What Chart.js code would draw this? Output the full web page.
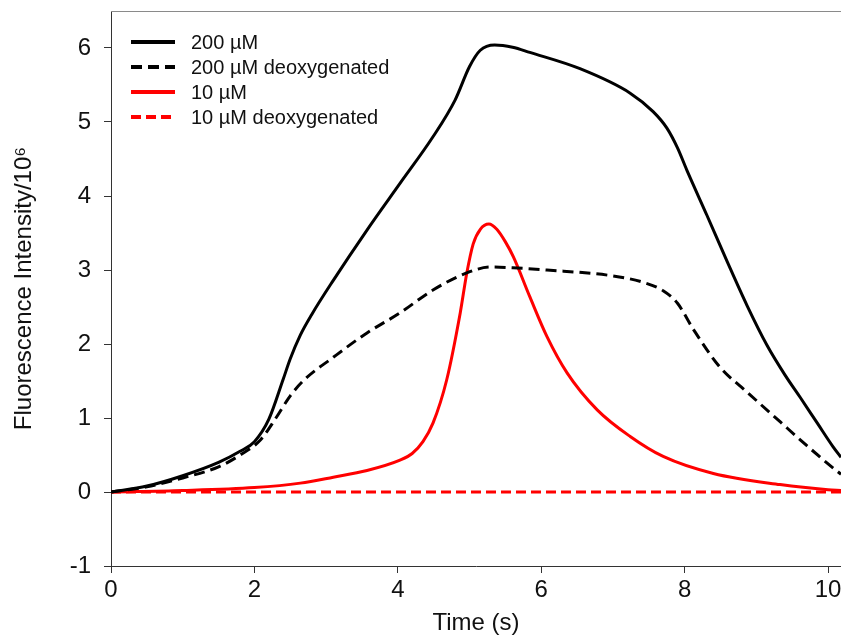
<!DOCTYPE html>
<html>
<head>
<meta charset="utf-8">
<script src="https://cdn.jsdelivr.net/npm/chart.js@4"></script>
<style>
  body { margin: 0; background: #fff; }
  #wrap { width: 841px; height: 638px; }
</style>
</head>
<body>
<div id="wrap"><canvas id="myChart" width="841" height="638"></canvas></div>
<script>
// time (s) and intensity (x10^6) for each run
const t200 = [0, 0.5, 1.0, 1.5, 1.8, 2.0, 2.2, 2.4, 2.5, 2.64, 2.8, 3.1, 3.57, 4.03, 4.49, 4.8, 5.0, 5.15, 5.35, 5.6, 5.84, 6.54, 7.24, 7.56, 7.75, 7.9, 8.03, 8.31, 8.59, 8.87, 9.15, 9.4, 9.61, 9.85, 10.07, 10.18];
const v200 = [0, 0.08, 0.22, 0.40, 0.55, 0.68, 0.98, 1.52, 1.80, 2.12, 2.40, 2.86, 3.54, 4.17, 4.80, 5.30, 5.75, 5.97, 6.04, 6.01, 5.94, 5.72, 5.39, 5.14, 4.92, 4.65, 4.35, 3.74, 3.12, 2.52, 1.98, 1.58, 1.28, 0.93, 0.61, 0.47];

const t200d = [0, 0.5, 1.0, 1.5, 1.8, 2.08, 2.3, 2.5, 2.7, 3.1, 3.57, 4.03, 4.49, 4.96, 5.29, 5.6, 6.08, 7.0, 7.4, 7.7, 7.9, 8.12, 8.49, 8.87, 9.33, 9.7, 10.0, 10.18];
const v200d = [0, 0.07, 0.19, 0.34, 0.50, 0.70, 1.00, 1.30, 1.52, 1.82, 2.15, 2.42, 2.73, 2.96, 3.04, 3.03, 3.00, 2.92, 2.84, 2.72, 2.55, 2.20, 1.69, 1.35, 0.95, 0.63, 0.38, 0.24];

const t10 = [0, 1, 2, 2.64, 3.1, 3.57, 4.03, 4.2, 4.35, 4.49, 4.68, 4.87, 4.96, 5.05, 5.15, 5.27, 5.38, 5.5, 5.61, 5.84, 6.08, 6.36, 6.78, 7.24, 7.70, 8.40, 9.33, 10.0, 10.18];
const v10 = [0, 0.02, 0.06, 0.12, 0.20, 0.29, 0.43, 0.52, 0.68, 0.93, 1.51, 2.42, 2.95, 3.35, 3.55, 3.62, 3.55, 3.38, 3.18, 2.64, 2.10, 1.61, 1.11, 0.75, 0.48, 0.25, 0.10, 0.03, 0.02];

const t10d = [0, 2, 4, 6, 8, 10.18];
const v10d = [0, 0, 0, 0, 0, 0];

const seriesNames = ['200 \u00b5M', '200 \u00b5M deoxygenated', '10 \u00b5M', '10 \u00b5M deoxygenated'];
const yTicks = [-1, 0, 1, 2, 3, 4, 5, 6];
const xTicks = [0, 2, 4, 6, 8, 10];

const FONT = "'Liberation Sans', Arial, sans-serif";

function pts(ts, vs) {
    return ts.map((t, i) => ({x: t, y: vs[i]}));
}

function line(label, ts, vs, color, dash) {
    return {
        label: label,
        data: pts(ts, vs),
        borderColor: color,
        borderWidth: 3,
        borderDash: dash,
        pointRadius: 0,
        cubicInterpolationMode: 'monotone',
        fill: false
    };
}

// no extra room around the axes, the plot fills the canvas edge to edge
function noPad(s) {
    s.paddingTop = 0;
    s.paddingBottom = 0;
    s.paddingLeft = 0;
    s.paddingRight = 0;
}

// legend in the top-left corner of the plot, plus the thin top frame line
const insideLegend = {
    id: 'insideLegend',
    afterDraw(chart) {
        const c = chart.ctx;
        const area = chart.chartArea;
        c.save();
        c.strokeStyle = '#8a8a8a';
        c.lineWidth = 1;
        c.beginPath();
        c.moveTo(area.left, area.top + 0.5);
        c.lineTo(area.right, area.top + 0.5);
        c.stroke();

        c.font = '20px ' + FONT;
        c.textBaseline = 'middle';
        c.fillStyle = '#111';
        chart.data.datasets.forEach((ds, i) => {
            const y = 42 + i * 25;
            c.strokeStyle = ds.borderColor;
            c.lineWidth = 4;
            c.setLineDash(ds.borderDash || []);
            c.beginPath();
            c.moveTo(131, y);
            c.lineTo(175, y);
            c.stroke();
            c.setLineDash([]);
            c.fillText(ds.label, 191, y + 1);
        });
        c.restore();
    }
};

const ctx = document.getElementById('myChart').getContext('2d');
const chartInstance = new Chart(ctx, {
    type: 'line',
    data: {
        datasets: [
            line(seriesNames[0], t200, v200, '#000', []),
            line(seriesNames[1], t200d, v200d, '#000', [11, 6]),
            line(seriesNames[2], t10, v10, '#ff0000', []),
            line(seriesNames[3], t10d, v10d, '#ff0000', [10, 5])
        ]
    },
    options: {
        responsive: false,
        animation: false,
        layout: {padding: {top: 11, right: 0, left: 0, bottom: 0}},
        plugins: {
            legend: {display: false},
            tooltip: {enabled: false}
        },
        scales: {
            x: {
                type: 'linear',
                min: 0,
                max: 10.18,
                afterFit: (s) => { s.height = 72; noPad(s); },
                afterBuildTicks: (s) => { s.ticks = xTicks.map(v => ({value: v})); },
                border: {color: '#333', width: 1},
                grid: {drawOnChartArea: false, tickLength: 7, color: '#333'},
                ticks: {color: '#111', padding: 3, font: {family: FONT, size: 24}},
                title: {
                    display: true,
                    text: 'Time (s)',
                    color: '#111',
                    padding: {top: 0, bottom: 0},
                    font: {family: FONT, size: 24}
                }
            },
            y: {
                min: -1,
                max: 6.5,
                afterFit: (s) => { s.width = 111; noPad(s); },
                afterBuildTicks: (s) => { s.ticks = yTicks.map(v => ({value: v})); },
                border: {color: '#333', width: 1},
                grid: {drawOnChartArea: false, tickLength: 7, color: '#333'},
                ticks: {color: '#111', padding: 13, font: {family: FONT, size: 24}},
                title: {
                    display: true,
                    text: 'Fluorescence Intensity/10\u2076',
                    color: '#111',
                    padding: {top: 10, bottom: 0},
                    font: {family: FONT, size: 24}
                }
            }
        }
    },
    plugins: [insideLegend]
});
</script>
</body>
</html>
